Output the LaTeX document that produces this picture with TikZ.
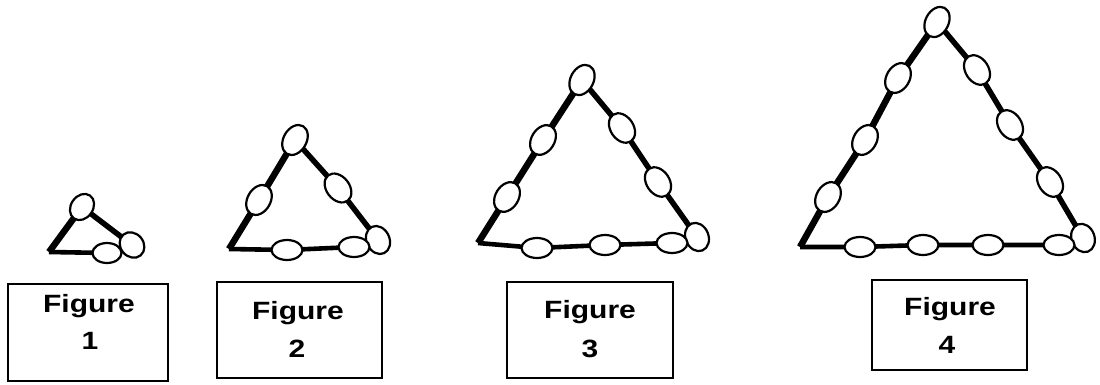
\documentclass[tikz,border=0pt]{standalone}
\usepackage{fontspec}
\setmainfont{Liberation Sans}
\usetikzlibrary{shapes.geometric,backgrounds}
\begin{document}
\begin{tikzpicture}[x=1pt,y=-1pt,
  bead/.style={ellipse,draw,fill=white,line width=2.2pt,minimum width=32pt,minimum height=23pt,inner sep=0pt},
  bbead/.style={bead,minimum width=31pt,minimum height=20pt},
  lside/.style={line width=6.5pt},
  rside/.style={line width=5.5pt},
  bside/.style={line width=4.6pt},
  fbox/.style={draw,line width=2pt,inner sep=0pt,outer sep=0pt},
  ftext/.style={anchor=base,inner sep=0pt,font=\fontsize{25}{25}\selectfont\bfseries}]
\useasboundingbox (0,0) rectangle (1100,385);

% ---------- Figure 1 ----------
\coordinate (B1) at (49,252);
\node[bead,rotate=55,minimum width=28pt,minimum height=22pt] (T1) at (82,207) {};
\node[bbead,minimum width=29pt] (D11) at (107,253) {};
\node[bead,rotate=-50,minimum width=27pt,minimum height=23pt] (C1) at (132,245) {};
\begin{scope}[on background layer]
  \draw[lside] (B1) -- (T1.center);
  \draw[rside] (T1.center) -- (C1.center);
  \draw[bside] (B1) -- (D11.center);
\end{scope}

% ---------- Figure 2 ----------
\coordinate (B2) at (229,249);
\node[bead,rotate=60] (T2) at (295,140) {};
\node[bead,rotate=60] (L21) at (259,200) {};
\node[bead,rotate=-52] (R21) at (338,188) {};
\node[bead,rotate=-65,minimum width=29pt] (C2) at (378,240) {};
\node[bbead] (D21) at (287,250) {};
\node[bbead] (D22) at (354,247) {};
\begin{scope}[on background layer]
  \draw[lside] (B2) -- (L21.center) (L21.center) -- (T2.center);
  \draw[rside] (T2.center) -- (R21.center) (R21.center) -- (C2.center);
  \draw[bside] (B2) -- (D21.center) (D21.center) -- (D22.center);
\end{scope}

% ---------- Figure 3 ----------
\coordinate (B3) at (478,243);
\node[bead,rotate=62] (T3) at (582,80) {};
\node[bead,rotate=58] (L31) at (543,140) {};
\node[bead,rotate=58] (L32) at (507,197) {};
\node[bead,rotate=-56] (R31) at (622,128) {};
\node[bead,rotate=-56] (R32) at (658,182) {};
\node[bead,rotate=-68,minimum width=29pt] (C3) at (697,237) {};
\node[bbead] (D31) at (537,248) {};
\node[bbead] (D32) at (605,245) {};
\node[bbead] (D33) at (672,243) {};
\begin{scope}[on background layer]
  \draw[lside] (B3) -- (L32.center) (L32.center) -- (L31.center) (L31.center) -- (T3.center);
  \draw[rside] (T3.center) -- (R31.center) (R31.center) -- (R32.center) (R32.center) -- (C3.center);
  \draw[bside] (B3) -- (D31.center) (D31.center) -- (D32.center) (D32.center) -- (D33.center);
\end{scope}

% ---------- Figure 4 ----------
\coordinate (B4) at (800,247);
\node[bead,rotate=62] (T4) at (937,22) {};
\node[bead,rotate=59] (L41) at (898,78) {};
\node[bead,rotate=59] (L42) at (865,140) {};
\node[bead,rotate=59] (L43) at (828,197) {};
\node[bead,rotate=-57] (R41) at (977,70) {};
\node[bead,rotate=-57] (R42) at (1010,125) {};
\node[bead,rotate=-57] (R43) at (1050,182) {};
\node[bead,rotate=-70,minimum width=29pt] (C4) at (1083,238) {};
\node[bbead] (D41) at (860,247) {};
\node[bbead] (D42) at (923,245) {};
\node[bbead] (D43) at (988,245) {};
\node[bbead] (D44) at (1059,245) {};
\begin{scope}[on background layer]
  \draw[lside] (B4) -- (L43.center) (L43.center) -- (L42.center) (L42.center) -- (L41.center) (L41.center) -- (T4.center);
  \draw[rside] (T4.center) -- (R41.center) (R41.center) -- (R42.center) (R42.center) -- (R43.center) (R43.center) -- (C4.center);
  \draw[bside] (B4) -- (D41.center) (D41.center) -- (D42.center) (D42.center) -- (D43.center) (D43.center) -- (D44.center);
\end{scope}

% ---------- Labels ----------
\node[fbox,minimum width=160pt,minimum height=97pt] (box1) at (88,332.5) {};
\node[fbox,minimum width=165pt,minimum height=96pt] (box2) at (299.5,330) {};
\node[fbox,minimum width=166pt,minimum height=96pt] (box3) at (590,330) {};
\node[fbox,minimum width=155pt,minimum height=90pt] (box4) at (949.5,325) {};

\node[ftext] (f1) at (89,312) {\scalebox{1.2}[1]{Figure}};
\node[ftext] (n1) at (90,349) {\scalebox{1.2}[1]{1}};
\node[ftext] (f2) at (298,319) {\scalebox{1.2}[1]{Figure}};
\node[ftext] (n2) at (297,357) {\scalebox{1.2}[1]{2}};
\node[ftext] (f3) at (590,318) {\scalebox{1.2}[1]{Figure}};
\node[ftext] (n3) at (590,357) {\scalebox{1.2}[1]{3}};
\node[ftext] (f4) at (950,315) {\scalebox{1.2}[1]{Figure}};
\node[ftext] (n4) at (947,353) {\scalebox{1.2}[1]{4}};
\end{tikzpicture}
\end{document}
